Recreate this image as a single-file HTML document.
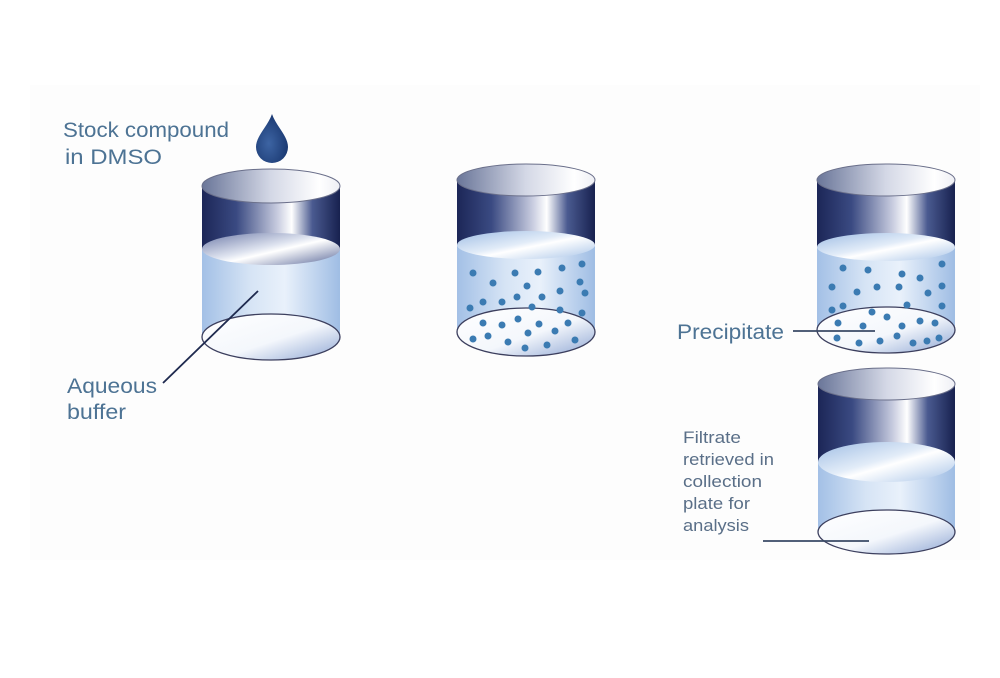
<!DOCTYPE html>
<html><head><meta charset="utf-8"><style>
html,body{margin:0;padding:0;background:#fff;}
svg{display:block}
</style></head><body>
<svg width="1000" height="678" viewBox="0 0 1000 678" xmlns="http://www.w3.org/2000/svg">
<defs>
<linearGradient id="band" x1="0" x2="1" y1="0" y2="0">
<stop offset="0" stop-color="#1c2657"/><stop offset="0.25" stop-color="#3a4a82"/>
<stop offset="0.55" stop-color="#c9cde0"/><stop offset="0.65" stop-color="#ffffff"/>
<stop offset="0.8" stop-color="#4a5a90"/><stop offset="1" stop-color="#17214f"/></linearGradient>
<linearGradient id="inner" x1="0" x2="1" y1="0" y2="0">
<stop offset="0" stop-color="#6a7699"/><stop offset="0.5" stop-color="#d4d8e6"/><stop offset="0.85" stop-color="#ffffff"/><stop offset="1" stop-color="#eeeff5"/></linearGradient>
<linearGradient id="liq" x1="0" x2="1" y1="0" y2="0">
<stop offset="0" stop-color="#a3c0e6"/><stop offset="0.35" stop-color="#d6e4f5"/><stop offset="0.6" stop-color="#e9f1fb"/><stop offset="1" stop-color="#9fbde4"/></linearGradient>
<linearGradient id="surf" x1="0" x2="1" y1="0" y2="1">
<stop offset="0" stop-color="#6d7aa8"/><stop offset="0.45" stop-color="#dfe4f0"/><stop offset="0.55" stop-color="#ffffff"/><stop offset="1" stop-color="#5a6899"/></linearGradient>
<linearGradient id="surf2" x1="0" x2="1" y1="0" y2="1">
<stop offset="0" stop-color="#9fbde4"/><stop offset="0.45" stop-color="#e2ecf8"/><stop offset="0.55" stop-color="#ffffff"/><stop offset="1" stop-color="#a8c4e8"/></linearGradient>
<linearGradient id="bot" x1="0" x2="1" y1="0" y2="1">
<stop offset="0" stop-color="#ffffff"/><stop offset="0.55" stop-color="#f4f7fc"/><stop offset="1" stop-color="#8ea6d3"/></linearGradient>
<radialGradient id="drop" cx="0.4" cy="0.6" r="0.6"><stop offset="0" stop-color="#3d64a3"/><stop offset="1" stop-color="#1b3a73"/></radialGradient>
</defs>
<rect x="30" y="85" width="950" height="475" fill="#fdfdfd"/>

<g>
<rect x="202" y="186" width="138" height="63" fill="url(#band)"/>
<rect x="202" y="249" width="138" height="88" fill="url(#liq)"/>
<ellipse cx="271" cy="337" rx="69" ry="23" fill="url(#bot)" stroke="#3c3f5e" stroke-width="1.3"/>
<ellipse cx="271" cy="249" rx="69" ry="16" fill="url(#surf)"/>
<ellipse cx="271" cy="186" rx="69" ry="17" fill="url(#inner)" stroke="#6a6f8a" stroke-width="1"/>
</g>
<g>
<rect x="457" y="180" width="138" height="65" fill="url(#band)"/>
<rect x="457" y="245" width="138" height="87" fill="url(#liq)"/>
<ellipse cx="526" cy="332" rx="69" ry="24" fill="url(#bot)" stroke="#3c3f5e" stroke-width="1.3"/>
<ellipse cx="526" cy="245" rx="69" ry="14" fill="url(#surf2)"/>
<ellipse cx="526" cy="180" rx="69" ry="16" fill="url(#inner)" stroke="#6a6f8a" stroke-width="1"/>
</g>
<g>
<rect x="817" y="180" width="138" height="67" fill="url(#band)"/>
<rect x="817" y="247" width="138" height="83" fill="url(#liq)"/>
<ellipse cx="886" cy="330" rx="69" ry="23" fill="url(#bot)" stroke="#3c3f5e" stroke-width="1.3"/>
<ellipse cx="886" cy="247" rx="69" ry="14" fill="url(#surf2)"/>
<ellipse cx="886" cy="180" rx="69" ry="16" fill="url(#inner)" stroke="#6a6f8a" stroke-width="1"/>
</g>
<g>
<rect x="818" y="384" width="137" height="78" fill="url(#band)"/>
<rect x="818" y="462" width="137" height="70" fill="url(#liq)"/>
<ellipse cx="886.5" cy="532" rx="68.5" ry="22" fill="url(#bot)" stroke="#3c3f5e" stroke-width="1.3"/>
<ellipse cx="886.5" cy="462" rx="68.5" ry="20" fill="url(#surf2)"/>
<ellipse cx="886.5" cy="384" rx="68.5" ry="16" fill="url(#inner)" stroke="#6a6f8a" stroke-width="1"/>
</g>

<g fill="#3b7bb2">
<circle cx="473" cy="273" r="3.5"/><circle cx="515" cy="273" r="3.5"/><circle cx="538" cy="272" r="3.5"/><circle cx="562" cy="268" r="3.5"/><circle cx="582" cy="264" r="3.5"/><circle cx="493" cy="283" r="3.5"/><circle cx="527" cy="286" r="3.5"/><circle cx="580" cy="282" r="3.5"/><circle cx="483" cy="302" r="3.5"/><circle cx="502" cy="302" r="3.5"/><circle cx="517" cy="297" r="3.5"/><circle cx="542" cy="297" r="3.5"/><circle cx="560" cy="291" r="3.5"/><circle cx="585" cy="293" r="3.5"/><circle cx="470" cy="308" r="3.5"/><circle cx="532" cy="307" r="3.5"/><circle cx="560" cy="310" r="3.5"/><circle cx="582" cy="313" r="3.5"/><circle cx="483" cy="323" r="3.5"/><circle cx="502" cy="325" r="3.5"/><circle cx="518" cy="319" r="3.5"/><circle cx="539" cy="324" r="3.5"/><circle cx="568" cy="323" r="3.5"/><circle cx="473" cy="339" r="3.5"/><circle cx="488" cy="336" r="3.5"/><circle cx="508" cy="342" r="3.5"/><circle cx="528" cy="333" r="3.5"/><circle cx="555" cy="331" r="3.5"/><circle cx="525" cy="348" r="3.5"/><circle cx="547" cy="345" r="3.5"/><circle cx="575" cy="340" r="3.5"/>
<circle cx="843" cy="268" r="3.5"/><circle cx="868" cy="270" r="3.5"/><circle cx="902" cy="274" r="3.5"/><circle cx="920" cy="278" r="3.5"/><circle cx="942" cy="264" r="3.5"/><circle cx="832" cy="287" r="3.5"/><circle cx="857" cy="292" r="3.5"/><circle cx="877" cy="287" r="3.5"/><circle cx="899" cy="287" r="3.5"/><circle cx="928" cy="293" r="3.5"/><circle cx="942" cy="286" r="3.5"/><circle cx="832" cy="310" r="3.5"/><circle cx="843" cy="306" r="3.5"/><circle cx="872" cy="312" r="3.5"/><circle cx="907" cy="305" r="3.5"/><circle cx="942" cy="306" r="3.5"/><circle cx="838" cy="323" r="3.5"/><circle cx="863" cy="326" r="3.5"/><circle cx="887" cy="317" r="3.5"/><circle cx="902" cy="326" r="3.5"/><circle cx="920" cy="321" r="3.5"/><circle cx="935" cy="323" r="3.5"/><circle cx="837" cy="338" r="3.5"/><circle cx="859" cy="343" r="3.5"/><circle cx="880" cy="341" r="3.5"/><circle cx="897" cy="336" r="3.5"/><circle cx="913" cy="343" r="3.5"/><circle cx="927" cy="341" r="3.5"/><circle cx="939" cy="338" r="3.5"/>
</g>

<path d="M272,114 C276,126 288,136 288,147 A16,16 0 0 1 256,147 C256,136 268,126 272,114 Z" fill="url(#drop)"/>

<line x1="258" y1="291" x2="163" y2="383" stroke="#1f2a4f" stroke-width="1.8"/>
<line x1="793" y1="331" x2="875" y2="331" stroke="#3a4a66" stroke-width="1.8"/>
<line x1="763" y1="541" x2="869" y2="541" stroke="#3a4a66" stroke-width="1.8"/>

<g font-family="'Liberation Sans', sans-serif" fill="#4d7394">
<text x="63" y="137" font-size="21" textLength="166" lengthAdjust="spacingAndGlyphs">Stock compound</text>
<text x="65" y="164" font-size="21" textLength="97" lengthAdjust="spacingAndGlyphs">in DMSO</text>
<text x="67" y="393" font-size="21" textLength="90" lengthAdjust="spacingAndGlyphs">Aqueous</text>
<text x="67" y="419" font-size="21" textLength="59" lengthAdjust="spacingAndGlyphs">buffer</text>
<text x="677" y="339" font-size="21" textLength="107" lengthAdjust="spacingAndGlyphs">Precipitate</text>
</g>
<g font-family="'Liberation Sans', sans-serif" fill="#5a6f88" font-size="17">
<text x="683" y="443" textLength="58" lengthAdjust="spacingAndGlyphs">Filtrate</text>
<text x="683" y="465" textLength="91" lengthAdjust="spacingAndGlyphs">retrieved in</text>
<text x="683" y="487" textLength="79" lengthAdjust="spacingAndGlyphs">collection</text>
<text x="683" y="509" textLength="67" lengthAdjust="spacingAndGlyphs">plate for</text>
<text x="683" y="531" textLength="66" lengthAdjust="spacingAndGlyphs">analysis</text>
</g>
</svg>
</body></html>
